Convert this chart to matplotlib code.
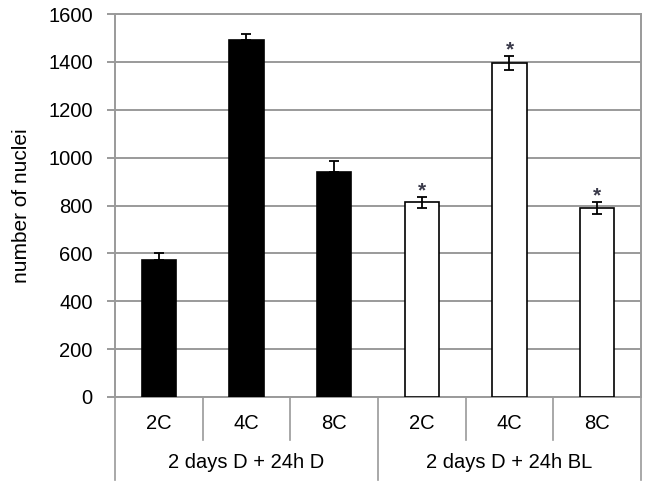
import numpy as np
import matplotlib
matplotlib.use('Agg')
import matplotlib.pyplot as plt

plt.rcParams['font.family'] = ['Liberation Sans', 'DejaVu Sans']

# data
categories = ['2C', '4C', '8C', '2C', '4C', '8C']
groups = ['2 days D + 24h D', '2 days D + 24h BL']
values = [572, 1490, 938, 814, 1396, 790]
errors = [28, 26, 49, 23, 30, 25]
significant = [False, False, False, True, True, True]
yticks = [0, 200, 400, 600, 800, 1000, 1200, 1400, 1600]

grid_col = '#9a9a9a'

fig = plt.figure(figsize=(6.47, 4.82), dpi=100)
ax = fig.add_axes([115/647, 1 - 397/482, 526/647, 383/482])

x = np.arange(len(values))
colors = ['black'] * 3 + ['white'] * 3
ax.bar(x, values, width=0.39, color=colors, edgecolor='black', linewidth=1.2, zorder=3)

# black bars show only the upper error, white bars both ways
lower = [0 if i < 3 else errors[i] for i in range(len(errors))]
ax.errorbar(x, values, yerr=[lower, errors], fmt='none', ecolor='black',
            elinewidth=1.3, capsize=3.5, capthick=1.3, zorder=4)

for i in range(len(values)):
    if significant[i]:
        ax.text(x[i], values[i] + errors[i] + 25, '*', ha='center', va='center',
                fontsize=15, fontweight='bold', color='#3a3a4a', zorder=5)

ax.set_xlim(-0.5, 5.5)
ax.set_ylim(0, 1600)
ax.set_yticks(yticks)
ax.set_yticklabels([str(t) for t in yticks], fontsize=14.5)
ax.yaxis.grid(True, color=grid_col, linewidth=1.4, zorder=0)
ax.set_axisbelow(True)
ax.tick_params(axis='y', direction='out', length=6, color=grid_col, width=1.4, pad=10)
ax.set_xticks([])
for s in ['left', 'right', 'top', 'bottom']:
    ax.spines[s].set_color(grid_col)
    ax.spines[s].set_linewidth(1.4)

ax.set_ylabel('number of nuclei', fontsize=15, labelpad=12)

# two-level category axis
trans = ax.get_xaxis_transform()
for i, c in enumerate(categories):
    ax.text(x[i], -0.07, c, transform=trans, ha='center', va='center', fontsize=14.5)
for g, name in enumerate(groups):
    ax.text(g * 3 + 1, -0.172, name, transform=trans, ha='center', va='center', fontsize=14.5)
for b in np.arange(-0.5, 6, 1.0):
    bottom = -0.217 if b in (-0.5, 2.5, 5.5) else -0.112
    ax.plot([b, b], [0, bottom], transform=trans, color=grid_col, linewidth=1.2, clip_on=False)

fig.savefig('out.png', dpi=100)
